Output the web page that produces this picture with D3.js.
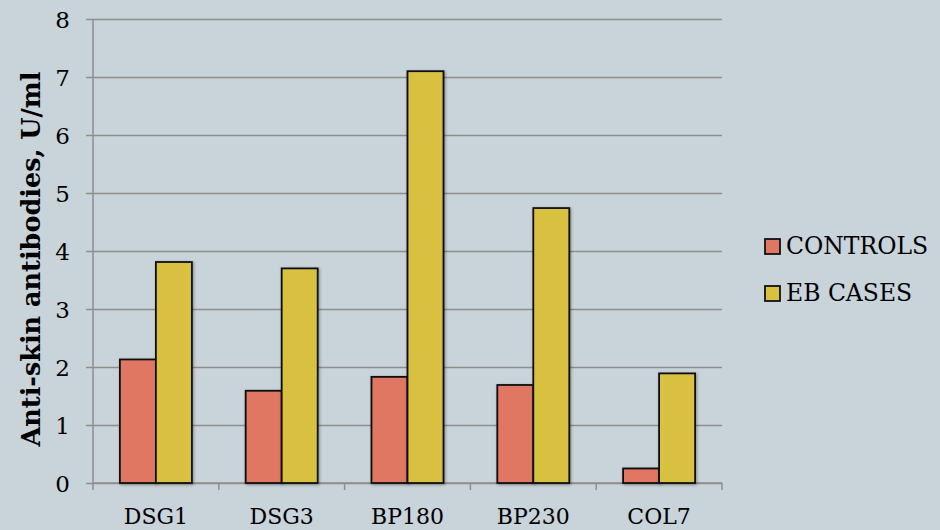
<!DOCTYPE html>
<html>
<head>
<meta charset="utf-8">
<script src="https://cdn.jsdelivr.net/npm/d3@7"></script>
<style>
  html, body { margin: 0; padding: 0; background: #c8d3da; }
  svg { display: block; }
  text { font-family: "DejaVu Serif", "Liberation Serif", serif; fill: #000; }
</style>
</head>
<body>
<svg id="chart" width="940" height="530"></svg>
<script>
// Antigen categories and mean antibody levels (U/ml)
const categories = ["DSG1", "DSG3", "BP180", "BP230", "COL7"];
const seriesNames = ["CONTROLS", "EB CASES"];
const controls = [2.13, 1.59, 1.83, 1.69, 0.25];
const ebCases = [3.81, 3.70, 7.10, 4.74, 1.89];
const yTicks = [0, 1, 2, 3, 4, 5, 6, 7, 8];
const colors = ["#e07762", "#d8c040"];
const yTitle = "Anti-skin antibodies, U/ml";

const FONT = "DejaVu Serif";
const rows = categories.map((c, i) => ({ cat: c, values: [controls[i], ebCases[i]] }));

const svg = d3.select("#chart");
const plotLeft = 93, plotRight = 722, plotTop = 19, plotBottom = 483;

const x = d3.scaleBand().domain(categories).range([plotLeft, plotRight]).paddingInner(0).paddingOuter(0);
const xInner = d3.scaleBand().domain([0, 1]).range([0, 72]);
const y = d3.scaleLinear().domain([0, 8]).range([plotBottom, plotTop]);

const defs = svg.append("defs");
const f = defs.append("filter").attr("id", "shadow").attr("x", "-20%").attr("y", "-20%").attr("width", "150%").attr("height", "150%");
f.append("feDropShadow").attr("dx", 1).attr("dy", 1).attr("stdDeviation", 1.6).attr("flood-color", "#000").attr("flood-opacity", 0.35);

// Horizontal gridlines with left tick marks
const yAxis = d3.axisLeft(y).tickValues(yTicks).tickSize(-(plotRight - plotLeft)).tickPadding(24).tickFormat(d3.format("d"));
const gy = svg.append("g").attr("transform", `translate(${plotLeft},0)`).call(yAxis);
gy.select(".domain").remove();
gy.selectAll(".tick line").attr("stroke", "#8e8e8e").attr("stroke-width", 1.5).attr("x2", plotRight - plotLeft).attr("x1", -7);
gy.selectAll(".tick text").attr("font-family", FONT).attr("font-size", 23).attr("x", -23).attr("dy", "0.36em");

// Y axis line
svg.append("line").attr("x1", plotLeft).attr("x2", plotLeft).attr("y1", plotTop).attr("y2", plotBottom)
  .attr("stroke", "#8e8e8e").attr("stroke-width", 1.5);

// Category axis with boundary ticks
const gx = svg.append("g").attr("transform", `translate(0,${plotBottom})`);
gx.append("line").attr("x1", plotLeft).attr("x2", plotRight).attr("stroke", "#8e8e8e").attr("stroke-width", 1.5);
const bounds = categories.map(c => x(c)).concat([plotRight]);
gx.selectAll("line.tk").data(bounds).join("line").attr("class", "tk")
  .attr("x1", d => d).attr("x2", d => d).attr("y1", 0).attr("y2", 7)
  .attr("stroke", "#8e8e8e").attr("stroke-width", 1.5);
gx.selectAll("text").data(categories).join("text")
  .attr("x", d => x(d) + x.bandwidth() / 2).attr("y", 41)
  .attr("text-anchor", "middle").attr("font-family", FONT).attr("font-size", 22).text(d => d);

// Bars
const groups = svg.append("g").selectAll("g").data(rows).join("g")
  .attr("transform", d => `translate(${x(d.cat) + (x.bandwidth() - 72) / 2},0)`);
groups.selectAll("rect").data(d => d.values.map((v, k) => ({ v, k }))).join("rect")
  .attr("x", d => xInner(d.k)).attr("width", xInner.bandwidth())
  .attr("y", d => y(d.v)).attr("height", d => y(0) - y(d.v))
  .attr("fill", d => colors[d.k]).attr("stroke", "#111").attr("stroke-width", 1.8)
  .attr("filter", "url(#shadow)");

// Y axis title
svg.append("text").attr("transform", `translate(40,259) rotate(-90)`)
  .attr("text-anchor", "middle").attr("font-family", FONT).attr("font-size", 25.5).attr("font-weight", "bold").text(yTitle);

// Legend
const legend = svg.append("g").selectAll("g").data(seriesNames).join("g")
  .attr("transform", (d, i) => `translate(765,${239 + i * 47})`);
legend.append("rect").attr("width", 15).attr("height", 15)
  .attr("fill", (d, i) => colors[i]).attr("stroke", "#111").attr("stroke-width", 1.8);
legend.append("text").attr("x", 21).attr("y", 15).attr("font-family", FONT).attr("font-size", 23.5).text(d => d);
</script>
</body>
</html>
